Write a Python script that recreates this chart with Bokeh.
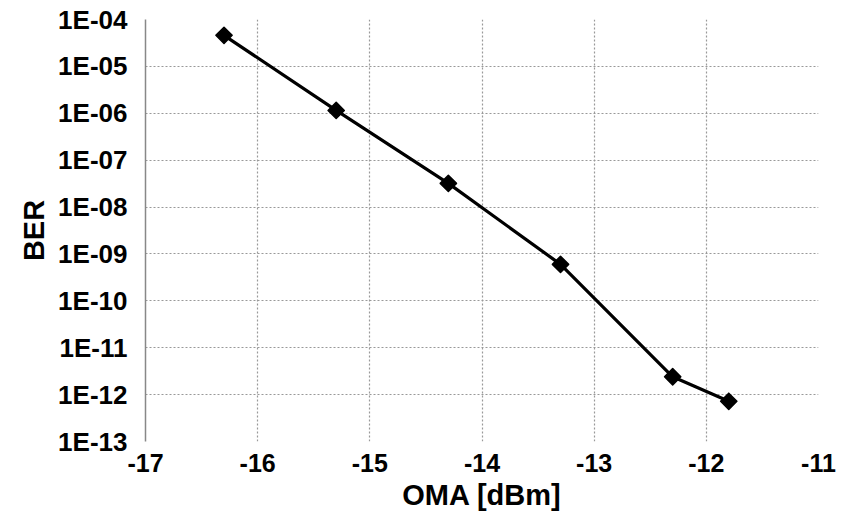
import math
from bokeh.plotting import figure
from bokeh.models import FixedTicker, CustomJSTickFormatter, Range1d
from bokeh.embed import file_html
from bokeh.resources import INLINE

# Data
oma_dbm = [-16.3, -15.3, -14.3, -13.3, -12.3, -11.8]
ber = [4.6e-5, 1.15e-6, 3.2e-8, 6.0e-10, 2.4e-12, 7.2e-13]
x_ticks = [-17, -16, -15, -14, -13, -12, -11]
y_ticks = [1e-13, 1e-12, 1e-11, 1e-10, 1e-9, 1e-8, 1e-7, 1e-6, 1e-5, 1e-4]

FONT = "Liberation Sans"

p = figure(frame_width=673, frame_height=422, y_axis_type="log",
           x_range=Range1d(-17, -11), y_range=Range1d(1e-13, 1e-4),
           output_backend="svg", toolbar_location=None,
           min_border_left=145, min_border_right=24,
           min_border_top=19, min_border_bottom=70)
p.outline_line_color = None
p.background_fill_color = "white"
p.border_fill_color = "white"

p.line(oma_dbm, ber, line_color="black", line_width=3.2)
p.scatter(oma_dbm, ber, marker="square", angle=math.pi / 4, size=11.5,
          fill_color="black", line_color="black", line_width=1.5,
          line_join="round")

p.xaxis.ticker = FixedTicker(ticks=x_ticks)
p.yaxis.ticker = FixedTicker(ticks=y_ticks)
p.xaxis.formatter = CustomJSTickFormatter(code="return tick.toFixed(0);")
p.yaxis.formatter = CustomJSTickFormatter(code="""
const e = Math.round(Math.log10(tick));
const a = String(Math.abs(e)).padStart(2, '0');
return '1E' + (e < 0 ? '-' : '+') + a;
""")

for ax in (p.xaxis, p.yaxis):
    ax.major_tick_line_color = None
    ax.minor_tick_line_color = None
    ax.major_label_text_font = FONT
    ax.major_label_text_font_style = "bold"
    ax.major_label_text_color = "black"
    ax.axis_label_text_font = FONT
    ax.axis_label_text_font_style = "bold"
    ax.axis_label_text_color = "black"

p.yaxis.major_label_text_font_size = "26px"
p.xaxis.major_label_text_font_size = "25px"
p.xaxis.axis_line_color = None
p.yaxis.axis_line_color = "#888888"
p.yaxis.axis_line_width = 1.5
p.xaxis.major_label_standoff = 6
p.yaxis.major_label_standoff = 12

p.xaxis.axis_label = "OMA [dBm]"
p.yaxis.axis_label = "BER"
p.xaxis.axis_label_text_font_size = "29px"
p.yaxis.axis_label_text_font_size = "29px"
p.xaxis.axis_label_standoff = 4
p.yaxis.axis_label_standoff = 5

for g in (p.xgrid, p.ygrid):
    g.grid_line_color = "#999999"
    g.grid_line_dash = "2 2"
    g.grid_line_width = 1.2
p.ygrid.minor_grid_line_color = None

open("out.html", "w").write(file_html(p, INLINE))
